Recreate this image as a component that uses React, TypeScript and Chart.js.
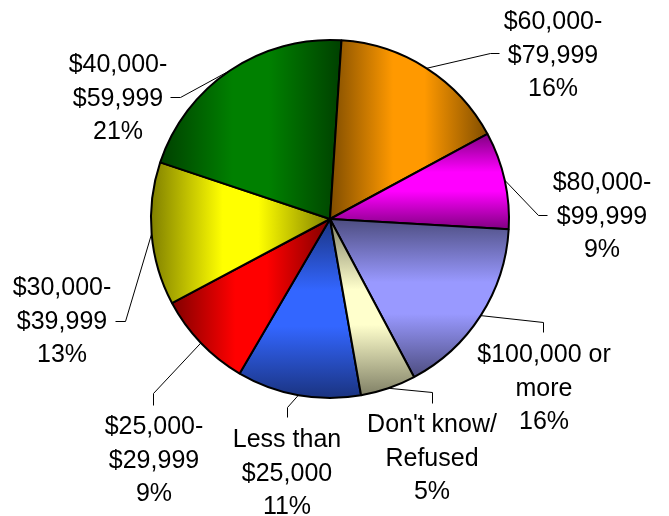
import React, { useEffect, useRef } from "react";
import { Chart, registerables } from "chart.js";

Chart.register(...registerables);

// ---- data ----
const categories = [
  "Less than $25,000",
  "$25,000-$29,999",
  "$30,000-$39,999",
  "$40,000-$59,999",
  "$60,000-$79,999",
  "$80,000-$99,999",
  "$100,000 or more",
  "Don't know/Refused",
];
const shares = [11.2, 8.8, 12.9, 20.9, 16.1, 8.8, 16.3, 5.0];
const percentLabels = ["11%", "9%", "13%", "21%", "16%", "9%", "16%", "5%"];
const labelLines = [
  ["Less than", "$25,000"],
  ["$25,000-", "$29,999"],
  ["$30,000-", "$39,999"],
  ["$40,000-", "$59,999"],
  ["$60,000-", "$79,999"],
  ["$80,000-", "$99,999"],
  ["$100,000 or", "more"],
  ["Don't know/", "Refused"],
];
const colors = ["#3366FF", "#FF0000", "#FFFF00", "#008000", "#FF9900", "#FF00FF", "#9999FF", "#FFFFCC"];
const gradientDir = ["v", "h", "h", "h", "h", "v", "v", "v"];

// ---- label layout (text centre x, first baseline y, leader elbow, leader end) ----
const labelLayout = [
  { x: 287, y: 447, elbow: [287, 407], end: [287, 417] },
  { x: 154, y: 434, elbow: [153, 393], end: [153, 405] },
  { x: 62, y: 295, elbow: [125, 321], end: [115, 321] },
  { x: 118, y: 72, elbow: [180, 97], end: [170, 97] },
  { x: 553, y: 29, elbow: [490, 53], end: [499, 53] },
  { x: 602, y: 190, elbow: [538, 215], end: [547, 215] },
  { x: 544, y: 362, elbow: [543, 322], end: [543, 332] },
  { x: 432, y: 432, elbow: [432, 392], end: [432, 403] },
];
const LINE_H = 33.5;
const FONT = "25px 'Liberation Sans', Arial, sans-serif";

function hexToRgb(h: string) {
  const n = parseInt(h.slice(1), 16);
  return [(n >> 16) & 255, (n >> 8) & 255, n & 255];
}
function shade(h: string, f: number) {
  const [r, g, b] = hexToRgb(h);
  return `rgb(${Math.round(r * f)},${Math.round(g * f)},${Math.round(b * f)})`;
}

const gradientPlugin = {
  id: "sliceGradient",
  beforeDatasetsDraw(chart: any) {
    const ctx = chart.ctx;
    const meta = chart.getDatasetMeta(0);
    meta.data.forEach((arc: any, i: number) => {
      const { x, y, startAngle, endAngle, outerRadius } = arc.getProps(
        ["x", "y", "startAngle", "endAngle", "outerRadius"],
        true
      );
      let minX = x, maxX = x, minY = y, maxY = y;
      const steps = 60;
      for (let s = 0; s <= steps; s++) {
        const a = startAngle + ((endAngle - startAngle) * s) / steps;
        const px = x + Math.cos(a) * outerRadius;
        const py = y + Math.sin(a) * outerRadius;
        minX = Math.min(minX, px);
        maxX = Math.max(maxX, px);
        minY = Math.min(minY, py);
        maxY = Math.max(maxY, py);
      }
      const g =
        gradientDir[i] === "h"
          ? ctx.createLinearGradient(minX, 0, maxX, 0)
          : ctx.createLinearGradient(0, minY, 0, maxY);
      const base = colors[i];
      g.addColorStop(0, shade(base, 0.5));
      g.addColorStop(0.4, shade(base, 1));
      g.addColorStop(0.6, shade(base, 1));
      g.addColorStop(1, shade(base, 0.5));
      arc.options.backgroundColor = g;
    });
  },
  afterDraw(chart: any) {
    const ctx = chart.ctx;
    const meta = chart.getDatasetMeta(0);
    ctx.save();
    meta.data.forEach((arc: any, i: number) => {
      const { x, y, startAngle, endAngle, outerRadius } = arc.getProps(
        ["x", "y", "startAngle", "endAngle", "outerRadius"],
        true
      );
      const mid = (startAngle + endAngle) / 2;
      const sx = x + Math.cos(mid) * outerRadius;
      const sy = y + Math.sin(mid) * outerRadius;
      const L = labelLayout[i];
      ctx.strokeStyle = "#000";
      ctx.lineWidth = 1;
      ctx.beginPath();
      ctx.moveTo(sx, sy);
      ctx.lineTo(L.elbow[0] + 0.5, L.elbow[1] + 0.5);
      ctx.lineTo(L.end[0] + 0.5, L.end[1] + 0.5);
      ctx.stroke();

      ctx.fillStyle = "#000";
      ctx.font = FONT;
      ctx.textAlign = "center";
      ctx.textBaseline = "alphabetic";
      const lines = [...labelLines[i], percentLabels[i]];
      lines.forEach((t, k) => ctx.fillText(t, L.x, L.y + k * LINE_H));
    });
    ctx.restore();
  },
};

export default function App() {
  const ref = useRef<HTMLCanvasElement | null>(null);
  useEffect(() => {
    document.body.style.margin = "0";
    const canvas = ref.current;
    if (!canvas) return;
    const chart = new Chart(canvas, {
      type: "pie",
      data: {
        labels: categories,
        datasets: [
          {
            data: shares,
            backgroundColor: colors,
            borderColor: "#000",
            borderWidth: 2,
          },
        ],
      },
      options: {
        responsive: false,
        devicePixelRatio: 1,
        animation: false,
        rotation: 170,
        layout: { padding: { left: 150, right: 159, top: 39, bottom: 117 } },
        plugins: {
          legend: { display: false },
          tooltip: { enabled: false },
          title: { display: false },
        },
        events: [],
      },
      plugins: [gradientPlugin],
    });
    return () => chart.destroy();
  }, []);
  return (
    <div style={{ width: 669, height: 516, background: "#fff" }}>
      <canvas ref={ref} width={669} height={516} style={{ display: "block" }} />
    </div>
  );
}
